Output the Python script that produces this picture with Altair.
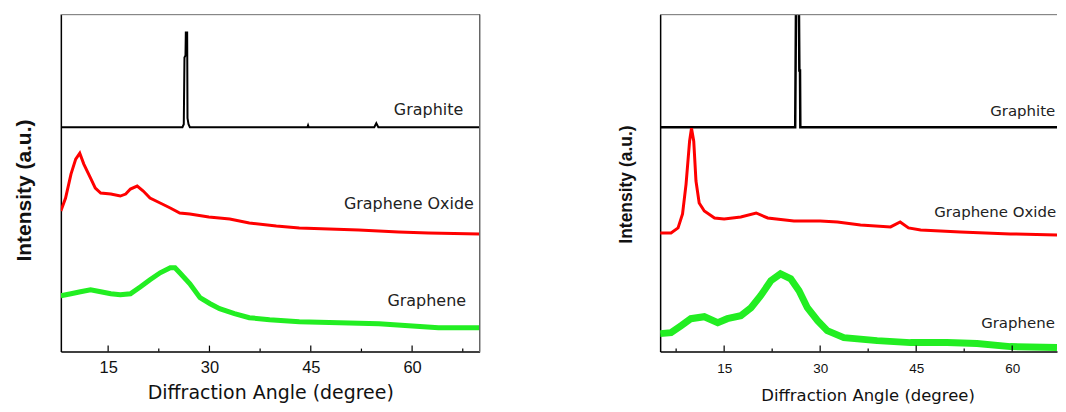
import altair as alt
import pandas as pd

SERIES = ["Graphite", "Graphene Oxide", "Graphene"]
COLORS = ["#000000", "#ff0000", "#22ee22"]

# ---------------- Left panel (intensity in a.u.) ----------------
L_GRAPHITE_X = [8, 26.0, 26.2, 26.3, 26.45, 26.5, 26.7, 26.75, 26.9, 27.1, 44.5, 44.6, 44.7, 54.4, 54.7, 55.0, 70]
L_GRAPHITE_Y = [225, 225, 228, 295, 297, 320, 320, 234, 228, 225, 225, 227, 225, 225, 229, 225, 225]

L_GO_X = [8, 8.7, 9.5, 10.2, 10.8, 11.4, 12.4, 13.1, 13.9, 15.4, 16.8, 17.6, 18.3, 19.3, 20.2, 21.2,
          22.7, 24.2, 25.6, 27.1, 29.9, 33.0, 35.9, 39.9, 43.3, 47.7, 52.1, 58.0, 62.4, 70]
L_GO_Y = [141, 154, 178, 193, 199, 188, 174, 164, 159, 158, 156, 158, 163, 166, 161, 154,
          149, 144, 139, 138, 135, 133, 129, 126, 124, 123, 122, 120, 119, 118]

L_GN_X = [8, 9.5, 10.9, 12.4, 13.9, 15.4, 16.8, 18.3, 19.8, 21.2, 22.7, 24.2, 24.9, 25.6, 27.1,
          28.6, 30.1, 31.5, 33.7, 35.9, 38.9, 43.3, 49.2, 55.1, 59.5, 63.9, 70]
L_GN_Y = [56, 58, 60, 62, 60, 58, 57, 58, 65, 72, 79, 84, 84, 79, 68,
          54, 48, 43, 38, 34, 32, 30, 29, 28, 26, 24, 24]

L_LABEL_X = [57.3, 49.9, 56.35]
L_LABEL_Y = [242, 148, 51]

# ---------------- Right panel ----------------
R_GRAPHITE_X = [5, 26.1, 26.3, 26.6, 26.75, 26.85, 26.9, 67.0]
R_GRAPHITE_Y = [225, 225, 420, 420, 282, 282, 225, 225]

R_GO_X = [5, 6.7, 7.8, 8.5, 9.05, 9.6, 9.9, 10.25, 10.6, 11.1, 11.9, 13.5, 15.0, 17.6, 20.0, 21.8,
          25.9, 30.0, 32.7, 36.3, 41.0, 42.5, 43.8, 45.7, 51.9, 59.7, 67.0]
R_GO_Y = [119, 119, 124, 138, 168, 211, 224, 211, 171, 149, 141, 134, 133, 135, 139, 134,
          131, 131, 130, 127, 125, 130, 124, 122, 120, 118, 117]

R_GN_X = [5, 6.7, 8.3, 9.8, 11.9, 14.0, 15.5, 17.6, 19.2, 20.7, 22.3, 23.8, 25.4, 26.7, 28.0,
          29.6, 31.1, 33.7, 38.9, 44.1, 49.8, 54.5, 59.7, 67.0]
R_GN_Y = [18, 19, 26, 33, 35, 29, 33, 36, 44, 56, 71, 78, 73, 61, 44,
          31, 21, 14, 11, 9, 9, 8, 5, 4]

R_LABEL_X = [56.56, 47.83, 55.15]
R_LABEL_Y = [241, 140, 29]

MAJOR_TICKS = [15, 30, 45, 60]
L_MINOR_TICKS = [22.5, 37.5, 52.5, 67.5]
R_MINOR_TICKS = [7.5, 22.5, 37.5, 52.5]

H = 338


def series_df(xs, ys):
    return pd.DataFrame({"angle": xs, "intensity": ys})


def make_panel(gx, gy, ox, oy, nx, ny, lx, ly, minor, x_domain, width,
               label_size, tick_label_size, label_pad, xtitle_size, xtitle_pad, xtitle_x,
               ytitle_size, ytitle_pad, ytitle_y, widths, frame):
    xscale = alt.Scale(domain=x_domain, nice=False, zero=False)
    yscale = alt.Scale(domain=[0, H], nice=False, zero=True)
    y_enc = alt.Y("intensity:Q", scale=yscale,
                  axis=alt.Axis(labels=False, ticks=False, grid=False, domainColor="#000000",
                                domainWidth=1.5, title="Intensity (a.u.)",
                                titleFont="Liberation Sans", titleFontSize=ytitle_size,
                                titleFontWeight="bold", titleColor="#111111",
                                titlePadding=ytitle_pad, titleY=ytitle_y))
    x_axis = alt.Axis(values=MAJOR_TICKS, ticks=False, grid=False, domainColor="#000000",
                      domainWidth=1.5, labelFont="Liberation Sans", labelFontSize=tick_label_size,
                      labelColor="#111111", labelPadding=label_pad,
                      title="Diffraction Angle (degree)", titleFont="DejaVu Sans",
                      titleFontSize=xtitle_size, titleFontWeight="normal", titleColor="#111111",
                      titlePadding=xtitle_pad, titleX=xtitle_x)

    def xenc(field):
        return alt.X(field, scale=xscale, axis=x_axis, title="Diffraction Angle (degree)")

    layers = []
    data_sets = [(gx, gy), (ox, oy), (nx, ny)]
    for i, (xs, ys) in enumerate(data_sets):
        layers.append(
            alt.Chart(series_df(xs, ys)).mark_line(color=COLORS[i], strokeWidth=widths[i],
                                                   clip=True, interpolate="linear")
            .encode(x=xenc("angle:Q"), y=y_enc)
        )

    lab = pd.DataFrame({"angle": lx, "intensity": ly, "name": SERIES})
    layers.append(
        alt.Chart(lab).mark_text(align="left", baseline="middle", font="DejaVu Sans",
                                 fontSize=label_size, color="#222222")
        .encode(x=xenc("angle:Q"), y=y_enc, text="name:N")
    )

    ticks_major = pd.DataFrame({"angle": MAJOR_TICKS})
    ticks_minor = pd.DataFrame({"angle": minor})
    layers.append(
        alt.Chart(ticks_major).mark_rule(color="#000000", strokeWidth=1.2)
        .encode(x=xenc("angle:Q"), y=alt.value(H), y2=alt.value(H - 6))
    )
    layers.append(
        alt.Chart(ticks_minor).mark_rule(color="#000000", strokeWidth=1.2)
        .encode(x=xenc("angle:Q"), y=alt.value(H), y2=alt.value(H - 3))
    )
    # top border of the frame
    layers.append(
        alt.Chart(ticks_major).mark_rule(color="#888888", strokeWidth=1)
        .encode(x=alt.value(0), x2=alt.value(width), y=alt.value(0))
    )
    if frame:
        layers.append(
            alt.Chart(ticks_major).mark_rule(color="#666666", strokeWidth=1)
            .encode(x=alt.value(width), y=alt.value(0), y2=alt.value(H))
        )
    return alt.layer(*layers).properties(width=width, height=H,
                                         view=alt.ViewBackground(stroke="transparent"))


left = make_panel(L_GRAPHITE_X, L_GRAPHITE_Y, L_GO_X, L_GO_Y, L_GN_X, L_GN_Y,
                  L_LABEL_X, L_LABEL_Y, L_MINOR_TICKS, [8, 70], 420,
                  label_size=16, tick_label_size=16.5, label_pad=8, xtitle_size=19,
                  xtitle_pad=8, xtitle_x=210, ytitle_size=21, ytitle_pad=26, ytitle_y=176,
                  widths=[2, 3, 5], frame=True)

right = make_panel(R_GRAPHITE_X, R_GRAPHITE_Y, R_GO_X, R_GO_Y, R_GN_X, R_GN_Y,
                   R_LABEL_X, R_LABEL_Y, R_MINOR_TICKS, [5, 67.0], 398,
                   label_size=15, tick_label_size=13.5, label_pad=10, xtitle_size=16.5,
                   xtitle_pad=13, xtitle_x=208, ytitle_size=17.5, ytitle_pad=25, ytitle_y=170,
                   widths=[2.5, 3, 7], frame=False)

chart = alt.hconcat(left, right, spacing=136).properties(
    padding={"left": 5, "top": 5, "right": 0, "bottom": 0}
).configure_view(stroke="transparent")

chart.save("out.html", embed_options={"renderer": "svg", "actions": False})
